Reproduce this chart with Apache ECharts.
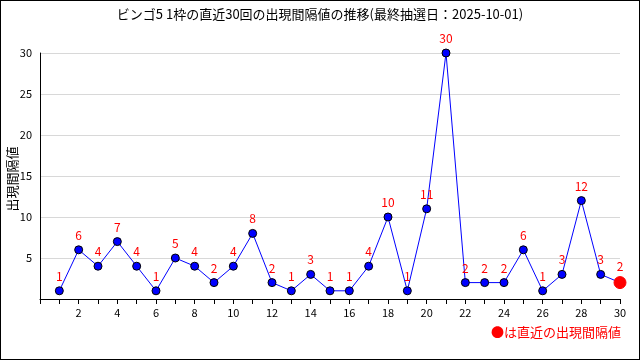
<!DOCTYPE html>
<html><head><meta charset="utf-8">
<script src="https://cdn.jsdelivr.net/npm/echarts@6/dist/echarts.min.js"></script>
<style>html,body{margin:0;padding:0;background:#fff}#c{width:640px;height:360px;box-sizing:border-box;border:1px solid #000}</style>
</head><body><div id="c"></div>
<script>
const titleText = 'ビンゴ5 1枠の直近30回の出現間隔値の推移(最終抽選日：2025-10-01)';
const draws = [1,2,3,4,5,6,7,8,9,10,11,12,13,14,15,16,17,18,19,20,21,22,23,24,25,26,27,28,29,30];
const intervals = [1,6,4,7,4,1,5,4,2,4,8,2,1,3,1,1,4,10,1,11,30,2,2,2,6,1,3,12,3,2];
const yTicks = [5,10,15,20,25,30];
const yName = '出現間隔値';
const legendText = '●は直近の出現間隔値';

const font = '"Noto Sans CJK JP", sans-serif';
const chart = echarts.init(document.getElementById('c'), null, {renderer:'canvas'});
const last = draws.length - 1;
const data = draws.map((d,i)=>{
  const p = {value:[d, intervals[i]]};
  if (i === last) p.symbolSize = 12, p.itemStyle = {color:'#ff0000', borderColor:'#ff0000'};
  return p;
});
chart.setOption({
  animation:false,
  title:{text:titleText, left:'center', top:2, textStyle:{fontFamily:font, fontSize:13, fontWeight:'normal', color:'#000'}},
  grid:{left:39, right:19, top:52, bottom:60, containLabel:false, outerBoundsMode:'none'},
  xAxis:{type:'value', min:0, max:30, interval:1,
    axisLine:{lineStyle:{color:'#000'}}, axisTick:{show:true, length:5, lineStyle:{color:'#000'}},
    splitLine:{show:false},
    axisLabel:{fontFamily:font, fontSize:11, color:'#000', margin:8, hideOverlap:false,
      formatter:v=> (v>0 && v%2===0) ? String(v) : ''}},
  yAxis:{type:'value', min:0, max:30, interval:5,
    axisLine:{show:true, lineStyle:{color:'#000'}}, axisTick:{show:false},
    splitLine:{lineStyle:{color:'#d8d8d8'}},
    axisLabel:{fontFamily:font, fontSize:11, color:'#000', margin:8,
      formatter:v=> yTicks.includes(v) ? String(v) : ''}},
  series:[{type:'line', data:data, symbol:'circle', symbolSize:8,
    lineStyle:{color:'#0000ff', width:1},
    itemStyle:{color:'#0000ff', borderColor:'#000', borderWidth:1},
    label:{show:true, position:'top', distance:4, color:'#ff0000', fontFamily:font, fontSize:12,
      formatter:p=>String(p.value[1])},
    z:3}],
  graphic:[
    {type:'text', right:18, top:325, style:{text:legendText, fill:'#ff0000', font:'13px '+font}},
    {type:'text', x:5, y:178, rotation:Math.PI/2,
      style:{text:yName, fill:'#000', font:'13px '+font, align:'center', verticalAlign:'top'}}
  ]
});
</script></body></html>
